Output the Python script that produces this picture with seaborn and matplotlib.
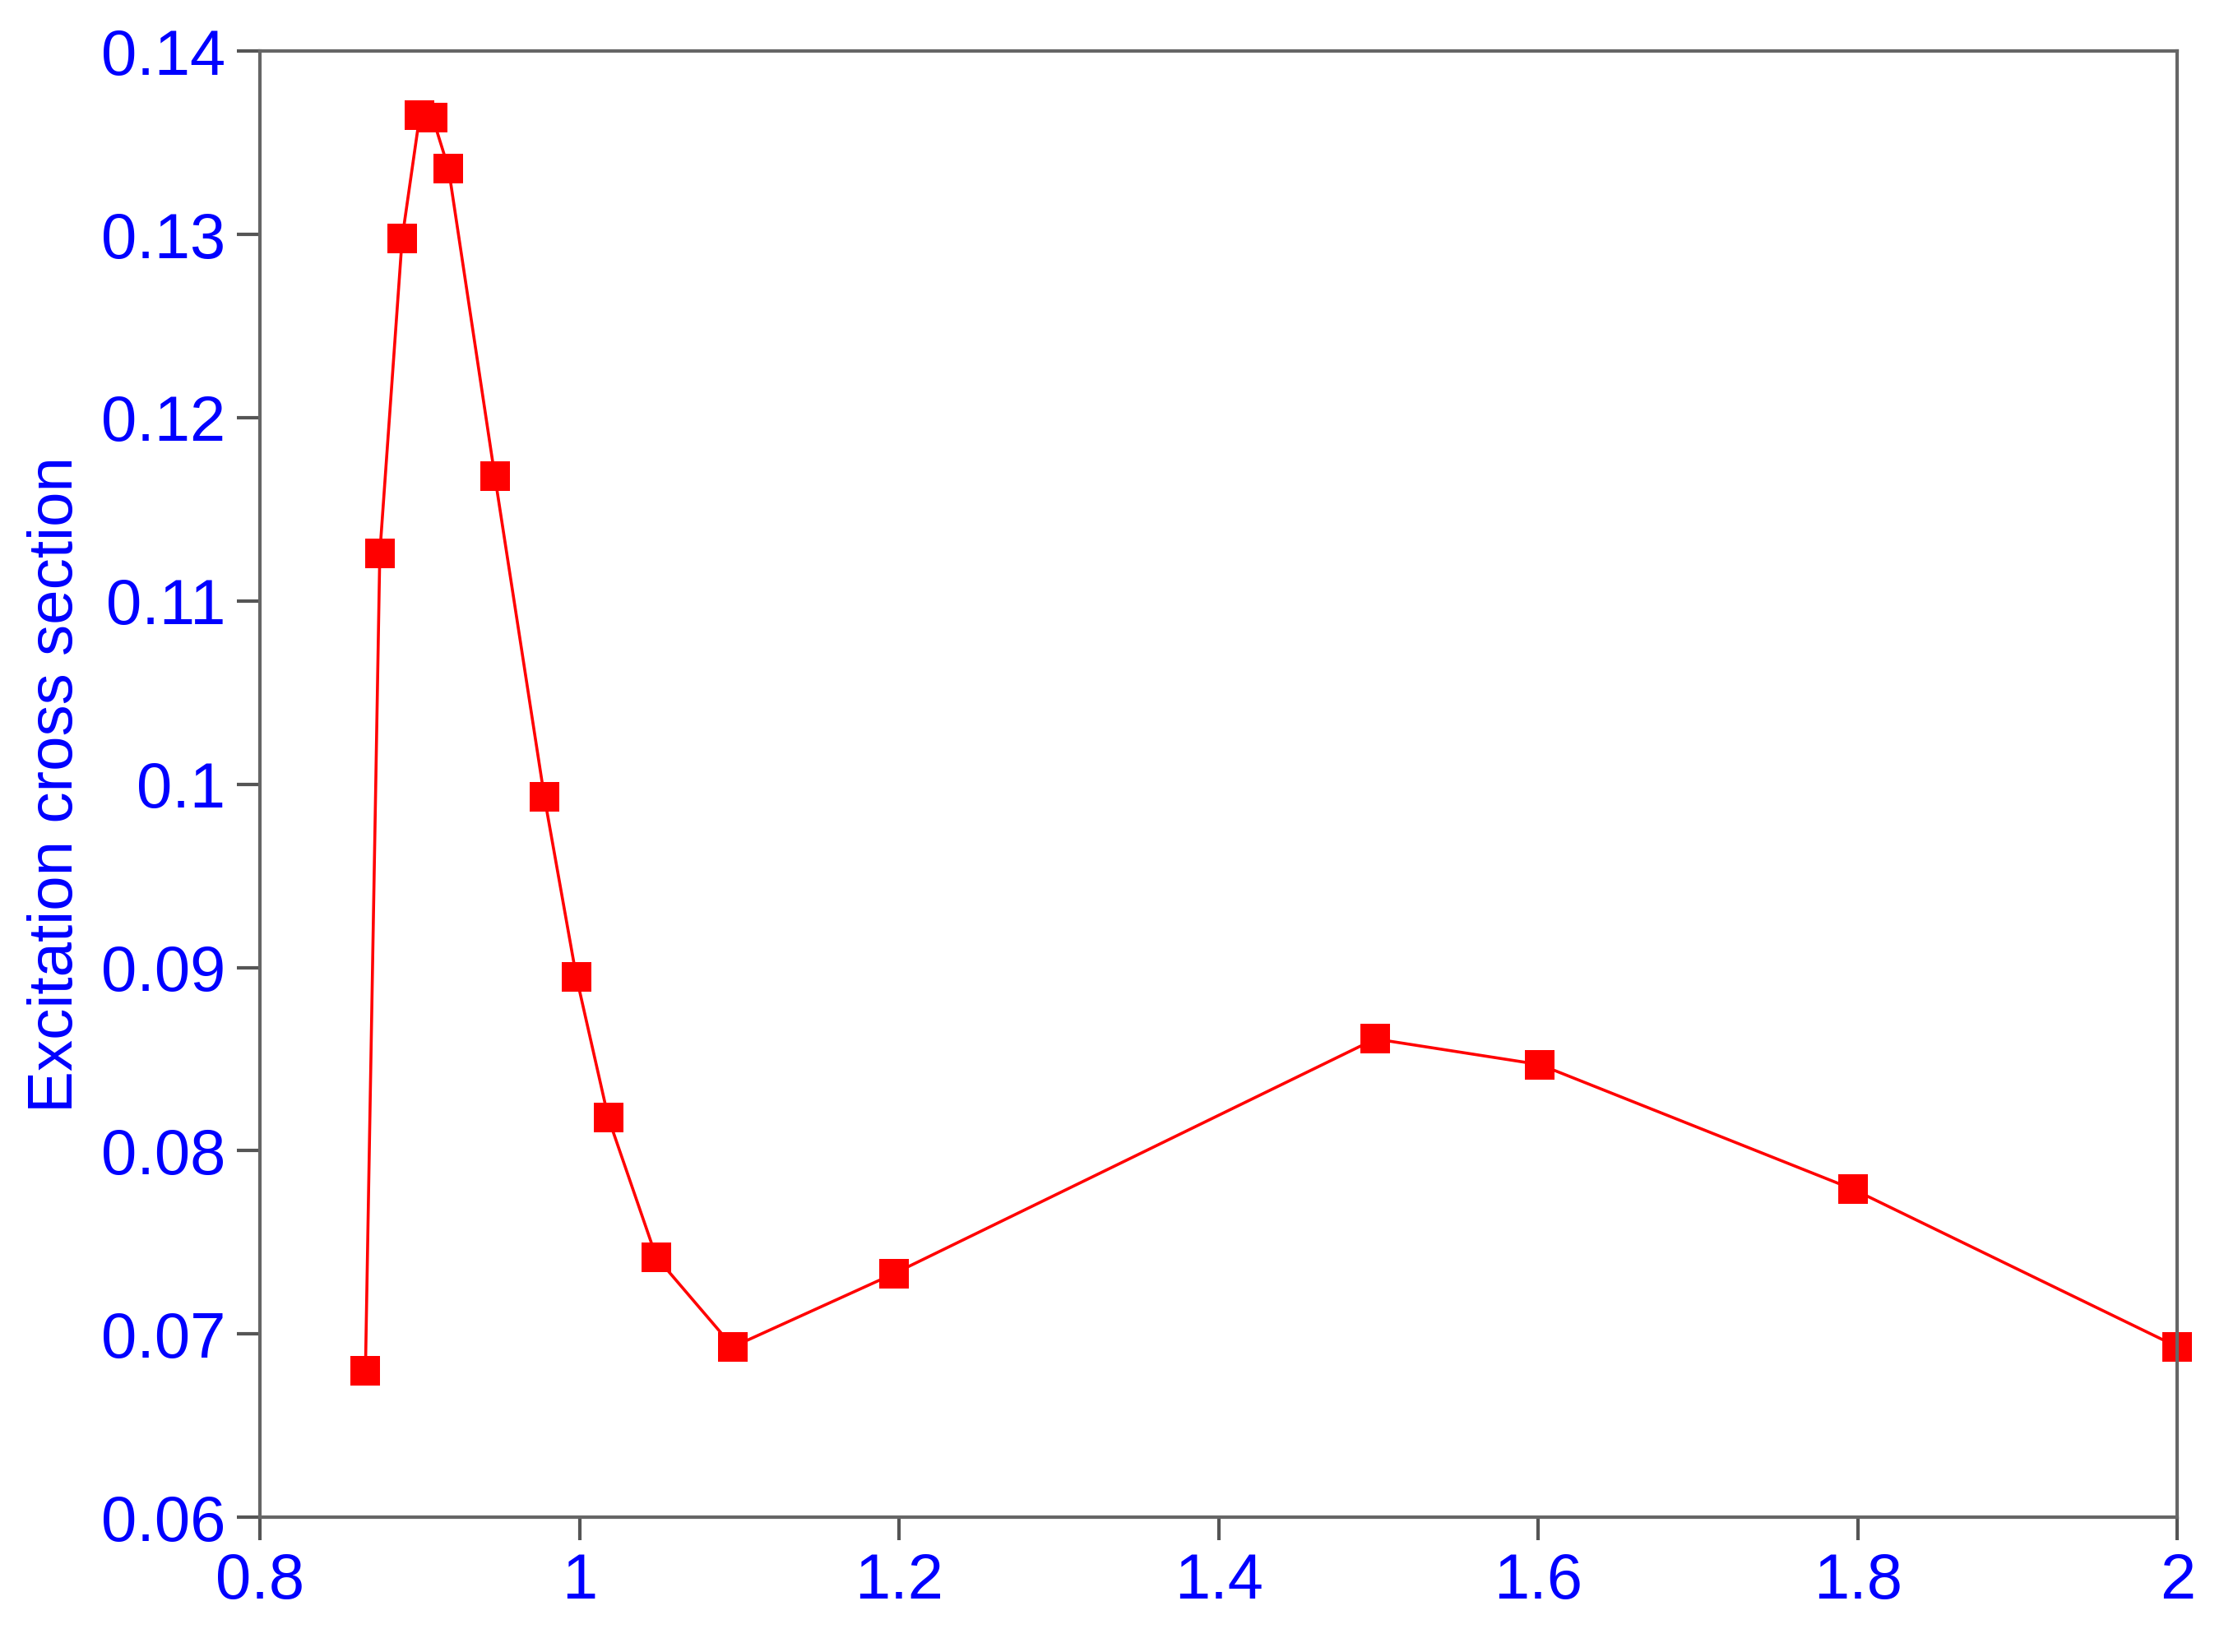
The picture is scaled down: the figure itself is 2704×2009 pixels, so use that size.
import matplotlib
matplotlib.use("Agg")
import matplotlib.pyplot as plt
import seaborn as sns
import pandas as pd

# data
energy = [0.866, 0.875, 0.889, 0.900, 0.908, 0.918, 0.947, 0.978, 0.998,
          1.018, 1.048, 1.096, 1.197, 1.498, 1.601, 1.797, 2.0]
cross_section = [0.0680, 0.1126, 0.1298, 0.1365, 0.1364, 0.1336, 0.1168, 0.0993, 0.0895,
                 0.0818, 0.0742, 0.0693, 0.0733, 0.0861, 0.0847, 0.0779, 0.0693]
x_ticks = [0.8, 1.0, 1.2, 1.4, 1.6, 1.8, 2.0]
x_labels = ["0.8", "1", "1.2", "1.4", "1.6", "1.8", "2"]
y_ticks = [0.06, 0.07, 0.08, 0.09, 0.10, 0.11, 0.12, 0.13, 0.14]
y_labels = ["0.06", "0.07", "0.08", "0.09", "0.1", "0.11", "0.12", "0.13", "0.14"]

df = pd.DataFrame({"energy": energy, "xs": cross_section})

sns.set_style("white")
plt.rcParams["font.family"] = ["Liberation Sans", "DejaVu Sans"]

fig = plt.figure(figsize=(13.52, 10.045), dpi=200)
ax = fig.add_axes([0.1169, 0.0816, 0.979 - 0.1169, 0.969 - 0.0816])

sns.lineplot(data=df, x="energy", y="xs", ax=ax, color="red", linewidth=1.3,
             marker="s", markersize=13, markeredgewidth=0, sort=False, clip_on=False)

ax.set_xlim(0.8, 2.0)
ax.set_ylim(0.06, 0.14)
ax.set_xticks(x_ticks)
ax.set_xticklabels(x_labels)
ax.set_yticks(y_ticks)
ax.set_yticklabels(y_labels)
ax.set_xlabel("")
ax.set_ylabel("Excitation cross section", color="blue", fontsize=27.5, labelpad=7)

ax.tick_params(axis="both", which="major", direction="out", length=10, width=1.5,
               color="#555555", labelcolor="blue", labelsize=28, pad=5,
               left=True, bottom=True, top=False, right=False)
for side in ["top", "bottom", "left", "right"]:
    ax.spines[side].set_visible(True)
    ax.spines[side].set_color("#666666")
    ax.spines[side].set_linewidth(1.5)

plt.savefig("out.png", dpi=200)
plt.close()
